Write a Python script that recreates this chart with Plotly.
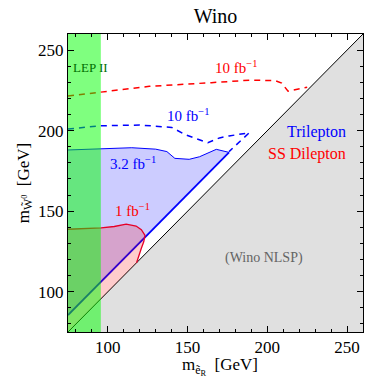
import plotly.graph_objects as go

# ---- data (GeV) ----
x_range = [75, 260]
y_range = [75, 260]
lep_limit = 95.6

red10_x = [75, 96, 126, 165, 190, 205, 209, 213, 225]
red10_y = [221.5, 224, 227.5, 229.8, 231.4, 231, 229.5, 224.5, 227]

blue10_x = [75, 85, 95, 120, 140, 149, 155, 162.7, 170, 176, 188.7, 176]
blue10_y = [201, 202, 203, 203.5, 202, 197.3, 195, 192.5, 195.5, 196.7, 198.7, 187]

blue32_top_x = [75, 95, 115, 130, 137, 142, 151, 157.5, 168, 176]
blue32_top_y = [188, 188.8, 189.4, 188.5, 187, 182.8, 182.2, 183.8, 188.4, 186.5]
blue32_edge_x = [176, 75]
blue32_edge_y = [186.5, 85.5]

red1_top_x = [75, 95.8, 104, 111.5, 117.7, 121, 123.3, 122.5, 121, 119.5, 118]
red1_top_y = [138.8, 139.6, 140.5, 142, 140.8, 138.5, 135, 131, 127, 122, 118]

SERIF = "Liberation Serif"

fig = go.Figure()

# NLSP excluded region (below diagonal)
fig.add_trace(go.Scatter(x=[x_range[0], x_range[1], x_range[1], x_range[0]],
                         y=[y_range[0], y_range[0], y_range[1], y_range[0]],
                         fill="toself", fillcolor="rgb(224,224,224)",
                         line=dict(width=0), mode="lines", hoverinfo="skip"))
# diagonal
fig.add_trace(go.Scatter(x=x_range, y=y_range, mode="lines",
                         line=dict(color="black", width=1), hoverinfo="skip"))

# trilepton 3.2 fb^-1 region
fig.add_trace(go.Scatter(x=blue32_top_x + blue32_edge_x[1:], y=blue32_top_y + blue32_edge_y[1:],
                         fill="toself", fillcolor="rgba(0,0,255,0.2)",
                         mode="lines", line=dict(width=0), hoverinfo="skip"))
fig.add_trace(go.Scatter(x=blue32_top_x, y=blue32_top_y, mode="lines",
                         line=dict(color="rgb(0,0,255)", width=1), hoverinfo="skip"))
fig.add_trace(go.Scatter(x=blue32_edge_x, y=blue32_edge_y, mode="lines",
                         line=dict(color="rgb(0,0,255)", width=1.8), hoverinfo="skip"))

# SS dilepton 1 fb^-1 region
fig.add_trace(go.Scatter(x=red1_top_x + [x_range[0]], y=red1_top_y + [y_range[0]],
                         fill="toself", fillcolor="rgba(255,0,0,0.2)",
                         mode="lines", line=dict(width=0), hoverinfo="skip"))
fig.add_trace(go.Scatter(x=red1_top_x, y=red1_top_y, mode="lines",
                         line=dict(color="rgb(230,0,40)", width=1.3), hoverinfo="skip"))

# 10 fb^-1 projections
fig.add_trace(go.Scatter(x=blue10_x, y=blue10_y, mode="lines",
                         line=dict(color="rgb(0,0,255)", width=1.5, dash="6px,5px"), hoverinfo="skip"))
fig.add_trace(go.Scatter(x=red10_x, y=red10_y, mode="lines",
                         line=dict(color="rgb(255,0,0)", width=1.5, dash="6px,5px"), hoverinfo="skip"))

# LEP II band on top
fig.add_trace(go.Scatter(x=[x_range[0], lep_limit, lep_limit, x_range[0], x_range[0]],
                         y=[y_range[0], y_range[0], y_range[1], y_range[1], y_range[0]],
                         fill="toself", fillcolor="rgba(0,255,0,0.5)",
                         mode="lines", line=dict(width=0), hoverinfo="skip"))

ann = [
    dict(x=89, y=239.5, text="LEP II", color="rgb(0,110,0)", size=13, xanchor="center"),
    dict(x=180.6, y=239.5, text="10 fb<sup>−1</sup>", color="rgb(255,0,0)", size=15, xanchor="center"),
    dict(x=150, y=209.7, text="10 fb<sup>−1</sup>", color="rgb(0,0,255)", size=15, xanchor="center"),
    dict(x=116, y=179.7, text="3.2 fb<sup>−1</sup>", color="rgb(0,0,255)", size=15, xanchor="center"),
    dict(x=115.6, y=150.7, text="1 fb<sup>−1</sup>", color="rgb(255,0,0)", size=15, xanchor="center"),
    dict(x=250.6, y=199.4, text="Trilepton", color="rgb(0,0,255)", size=16, xanchor="right"),
    dict(x=250.6, y=185.5, text="SS Dilepton", color="rgb(255,0,0)", size=16, xanchor="right"),
    dict(x=198, y=120.8, text="(Wino NLSP)", color="rgb(100,100,100)", size=14, xanchor="center"),
]
for a in ann:
    fig.add_annotation(x=a["x"], y=a["y"], text=a["text"], showarrow=False,
                       xanchor=a["xanchor"], yanchor="middle",
                       font=dict(family=SERIF, size=a["size"], color=a["color"]))

# x-axis title as a paper-anchored annotation (placed like the reference)
fig.add_annotation(x=0.378, y=-0.117, xref="paper", yref="paper", xanchor="left", yanchor="middle",
                   text="m<sub>ẽ<sub>R</sub></sub>  [GeV]", showarrow=False,
                   font=dict(family=SERIF, size=17, color="black"))

axis_common = dict(
    showgrid=False, zeroline=False, showline=True, linecolor="black", linewidth=1,
    mirror="allticks", ticks="inside", ticklen=6, tickcolor="black", tickwidth=1,
    tickfont=dict(family=SERIF, size=17, color="black"),
    tickvals=[100, 150, 200, 250], automargin=False,
    minor=dict(tickvals=list(range(80, 260, 10)), ticks="inside", ticklen=3, tickcolor="black"),
)

fig.update_layout(
    width=365, height=378,
    margin=dict(l=68, r=2, t=34, b=46),
    paper_bgcolor="white", plot_bgcolor="white",
    showlegend=False,
    title=dict(text="Wino", x=0.5, xref="paper", y=0.958, yanchor="middle", automargin=False,
               font=dict(family=SERIF, size=20, color="black")),
    xaxis=dict(range=x_range, **axis_common),
    yaxis=dict(range=y_range, title=dict(text="m<sub>W̃<sup>0</sup></sub>  [GeV]", standoff=4,
               font=dict(family=SERIF, size=17, color="black")), **axis_common),
)

fig.write_html("out.html", config={"displayModeBar": False},
               post_script="document.body.style.margin='0';document.body.style.overflow='hidden';")
